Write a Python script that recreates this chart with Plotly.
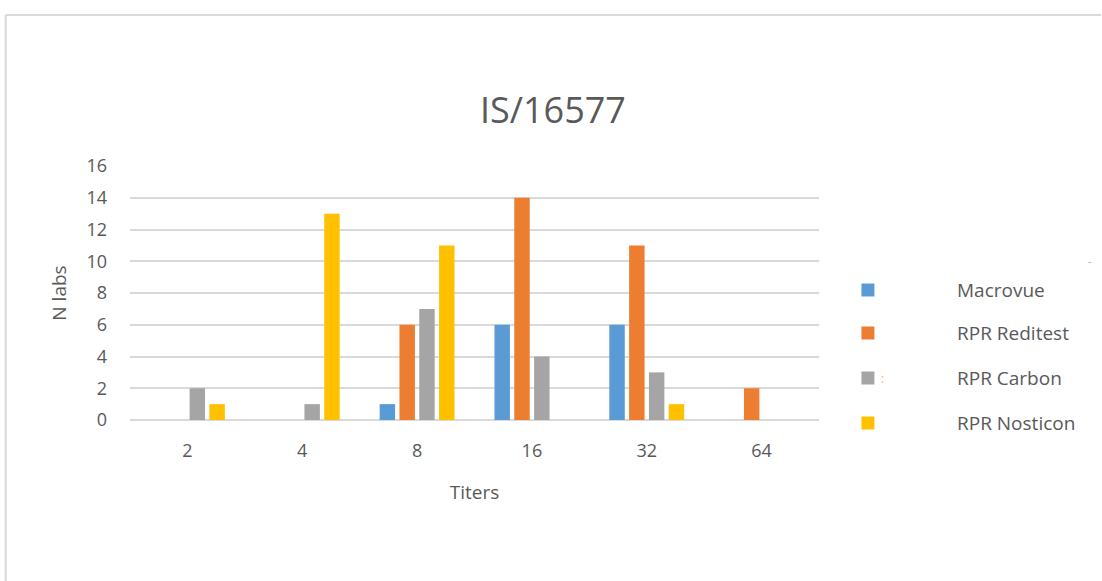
import plotly.graph_objects as go

titers = ["2", "4", "8", "16", "32", "64"]
series_names = ["Macrovue", "RPR Reditest", "RPR Carbon", "RPR Nosticon"]
macrovue = [0, 0, 1, 6, 6, 0]
reditest = [0, 0, 6, 14, 11, 2]
carbon = [2, 1, 7, 4, 3, 0]
nosticon = [1, 13, 11, 0, 1, 0]
colors = ["#5B9BD5", "#ED7D31", "#A5A5A5", "#FFC000"]
y_ticks = [0, 2, 4, 6, 8, 10, 12, 14, 16]

FONT = "Open Sans, sans-serif"
TXT = "#595959"

W, H = 1102, 581
L, R, T, B = 129.5, 282.5, 166, 161
pw, ph = W - L - R, H - T - B

def px(x):
    return (x - L) / pw

def py(y):
    return (H - B - y) / ph

fig = go.Figure()
for name, vals, c in zip(series_names, [macrovue, reditest, carbon, nosticon], colors):
    fig.add_trace(go.Bar(x=titers, y=vals, name=name, marker_color=c,
                         marker_line_width=0, showlegend=False))

shapes = []
annotations = []
# frame
shapes.append(dict(type="line", xref="paper", yref="paper", x0=px(5), x1=px(1102),
                   y0=py(15), y1=py(15), line=dict(color="#D9D9D9", width=2)))
shapes.append(dict(type="line", xref="paper", yref="paper", x0=px(5), x1=px(5),
                   y0=py(15), y1=py(581), line=dict(color="#D9D9D9", width=2)))

# manual legend
leg_y = [290, 333, 378, 423]
for name, c, yy in zip(series_names, colors, leg_y):
    shapes.append(dict(type="rect", xref="paper", yref="paper",
                       x0=px(862), x1=px(875), y0=py(yy + 6.5), y1=py(yy - 6.5),
                       fillcolor=c, line=dict(width=0)))
    annotations.append(dict(xref="paper", yref="paper", x=px(956), y=py(yy),
                            xanchor="left", yanchor="middle", text=name, showarrow=False,
                            font=dict(family=FONT, size=19, color=TXT)))
# small stray marks seen in the reference
annotations.append(dict(xref="paper", yref="paper", x=px(883), y=py(378), xanchor="center",
                        yanchor="middle", text=":", showarrow=False,
                        font=dict(family=FONT, size=12, color="#F4B183")))
annotations.append(dict(xref="paper", yref="paper", x=px(1090), y=py(261), xanchor="center",
                        yanchor="middle", text="-", showarrow=False,
                        font=dict(family=FONT, size=10, color="#A0A0A0")))

fig.update_layout(
    width=W, height=H,
    margin=dict(l=L, r=R, t=T, b=B, autoexpand=False),
    paper_bgcolor="white", plot_bgcolor="white",
    barmode="group", bargap=0.31, bargroupgap=0.22,
    title=dict(text="IS/16577", x=553 / W, xanchor="center", y=1 - 110 / H, yanchor="middle",
               font=dict(family=FONT, size=36, color=TXT)),
    xaxis=dict(type="category", showgrid=False, showline=False, ticks="",
               ticklabelstandoff=18,
               tickfont=dict(family=FONT, size=18, color=TXT),
               title=dict(text="Titers", font=dict(family=FONT, size=19, color=TXT), standoff=24)),
    yaxis=dict(range=[0, 16], tickvals=y_ticks, showgrid=True, gridcolor="#D9D9D9", gridwidth=2,
               zeroline=True, zerolinecolor="#D9D9D9", zerolinewidth=2, showline=False, ticks="",
               ticklabelstandoff=22,
               tickfont=dict(family=FONT, size=18, color=TXT),
               title=dict(text="N labs", font=dict(family=FONT, size=19, color=TXT), standoff=14)),
    shapes=shapes, annotations=annotations,
)

fig.write_html("out.html")
